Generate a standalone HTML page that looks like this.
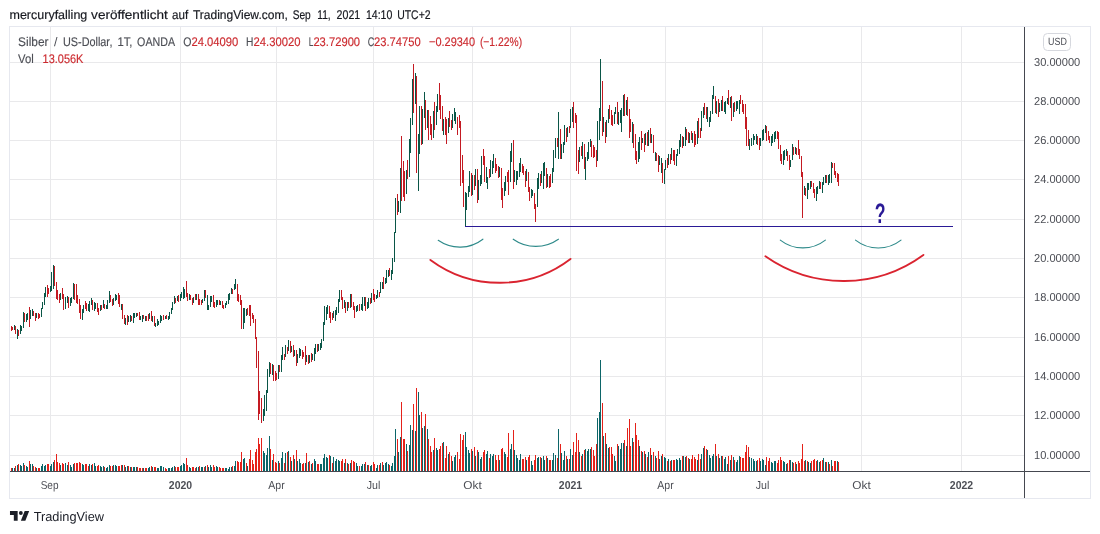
<!DOCTYPE html>
<html lang="de"><head><meta charset="utf-8"><title>Silber / US-Dollar</title>
<style>
html,body{margin:0;padding:0;background:#fff;}
body{width:1100px;height:534px;overflow:hidden;font-family:"Liberation Sans",sans-serif;}
svg{display:block;font-family:"Liberation Sans",sans-serif;will-change:transform;}
text{text-rendering:geometricPrecision;}
</style></head><body>
<svg width="1100" height="534" viewBox="0 0 1100 534">
<rect width="1100" height="534" fill="#fff"/>
<rect x="9.5" y="26.5" width="1081" height="472" fill="none" stroke="#e6e8ef" stroke-width="1" shape-rendering="crispEdges"/>
<g shape-rendering="crispEdges" stroke="#e9e9eb" stroke-width="1" fill="none">
<path d="M50.5 27V471M180.5 27V471M276.5 27V471M373.5 27V471M472.5 27V471M570.5 27V471M665.5 27V471M762.5 27V471M861.5 27V471M961.5 27V471M10 62.5H1024M10 101.5H1024M10 140.5H1024M10 179.5H1024M10 219.5H1024M10 258.5H1024M10 297.5H1024M10 337.5H1024M10 376.5H1024M10 415.5H1024M10 455.5H1024"/></g>
<g shape-rendering="crispEdges" fill="none" stroke-width="1">
<path stroke="#0c6568" d="M12.5 468V471M14.5 468V471M17.5 465V471M20.5 465V471M21.5 466V471M23.5 463V471M26.5 466V471M27.5 467V471M30.5 464V471M32.5 464V471M36.5 468V471M41.5 466V471M42.5 464V471M44.5 466V471M45.5 465V471M50.5 466V471M51.5 464V471M53.5 462V471M60.5 465V471M65.5 463V471M67.5 465V471M70.5 465V471M71.5 467V471M73.5 464V471M82.5 464V471M83.5 465V471M89.5 464V471M91.5 465V471M94.5 463V471M95.5 466V471M100.5 466V471M101.5 467V471M103.5 466V471M106.5 468V471M107.5 467V471M109.5 465V471M113.5 465V471M115.5 465V471M116.5 466V471M122.5 465V471M125.5 467V471M127.5 466V471M130.5 467V471M133.5 467V471M134.5 467V471M136.5 467V471M143.5 468V471M148.5 468V471M149.5 467V471M152.5 467V471M157.5 468V471M158.5 468V471M160.5 466V471M161.5 466V471M163.5 467V471M168.5 468V471M169.5 468V471M171.5 468V471M172.5 467V471M174.5 466V471M180.5 466V471M181.5 465V471M183.5 463V471M184.5 464V471M189.5 467V471M190.5 468V471M196.5 467V471M198.5 467V471M201.5 467V471M202.5 467V471M205.5 466V471M208.5 467V471M210.5 465V471M211.5 467V471M216.5 466V471M217.5 467V471M225.5 468V471M226.5 468V471M228.5 469V471M229.5 467V471M231.5 467V471M234.5 466V471M235.5 461V471M243.5 459V471M244.5 458V471M247.5 466V471M263.5 451V471M264.5 453V471M266.5 455V471M267.5 448V471M269.5 436V471M272.5 460V471M278.5 461V471M281.5 458V471M282.5 452V471M285.5 453V471M288.5 451V471M291.5 461V471M294.5 459V471M297.5 461V471M299.5 459V471M300.5 463V471M305.5 463V471M308.5 462V471M311.5 464V471M314.5 459V471M315.5 461V471M320.5 464V471M321.5 464V471M323.5 458V471M324.5 454V471M326.5 457V471M327.5 458V471M330.5 456V471M333.5 457V471M335.5 461V471M336.5 459V471M338.5 460V471M339.5 461V471M344.5 463V471M347.5 463V471M350.5 463V471M356.5 463V471M357.5 466V471M361.5 466V471M362.5 464V471M364.5 464V471M367.5 465V471M370.5 466V471M371.5 465V471M376.5 468V471M377.5 465V471M380.5 463V471M383.5 465V471M385.5 463V471M386.5 462V471M388.5 464V471M391.5 466V471M392.5 463V471M394.5 456V471M395.5 429V471M398.5 452V471M400.5 437V471M406.5 444V471M409.5 445V471M410.5 425V471M412.5 430V471M415.5 431V471M418.5 392V471M419.5 415V471M422.5 428V471M424.5 426V471M427.5 429V471M433.5 450V471M436.5 448V471M437.5 450V471M443.5 442V471M448.5 454V471M452.5 461V471M454.5 457V471M455.5 455V471M465.5 432V471M466.5 447V471M468.5 450V471M469.5 453V471M472.5 451V471M475.5 456V471M478.5 452V471M480.5 459V471M481.5 457V471M486.5 454V471M487.5 451V471M490.5 454V471M492.5 456V471M493.5 454V471M499.5 460V471M504.5 452V471M505.5 454V471M510.5 449V471M511.5 444V471M514.5 450V471M516.5 455V471M517.5 458V471M519.5 460V471M520.5 454V471M526.5 460V471M531.5 461V471M532.5 465V471M537.5 458V471M538.5 457V471M541.5 458V471M543.5 456V471M544.5 460V471M547.5 458V471M552.5 460V471M553.5 453V471M555.5 455V471M558.5 429V471M561.5 453V471M563.5 460V471M564.5 451V471M567.5 459V471M570.5 449V471M572.5 455V471M579.5 452V471M582.5 454V471M585.5 449V471M587.5 451V471M588.5 449V471M590.5 449V471M597.5 418V471M599.5 412V471M600.5 360V471M603.5 436V471M606.5 444V471M608.5 448V471M614.5 456V471M615.5 461V471M618.5 446V471M620.5 449V471M621.5 443V471M623.5 443V471M626.5 446V471M632.5 438V471M639.5 446V471M642.5 452V471M645.5 454V471M648.5 452V471M651.5 455V471M655.5 456V471M659.5 459V471M661.5 456V471M664.5 457V471M665.5 458V471M668.5 459V471M671.5 460V471M676.5 459V471M677.5 460V471M679.5 458V471M680.5 460V471M683.5 456V471M685.5 457V471M689.5 459V471M697.5 460V471M701.5 454V471M703.5 448V471M707.5 450V471M709.5 455V471M710.5 458V471M712.5 456V471M713.5 454V471M716.5 456V471M719.5 458V471M721.5 456V471M724.5 459V471M725.5 457V471M727.5 464V471M730.5 460V471M733.5 457V471M736.5 462V471M737.5 460V471M739.5 456V471M749.5 457V471M751.5 458V471M753.5 459V471M754.5 461V471M756.5 461V471M760.5 461V471M762.5 459V471M763.5 460V471M765.5 465V471M771.5 462V471M772.5 463V471M774.5 461V471M775.5 461V471M783.5 461V471M784.5 462V471M786.5 464V471M790.5 460V471M792.5 462V471M796.5 464V471M805.5 460V471M808.5 462V471M810.5 463V471M817.5 460V471M819.5 462V471M823.5 458V471M825.5 462V471M828.5 462V471M831.5 460V471M837.5 461V471"/>
<path stroke="#e5211a" d="M11.5 468V471M15.5 466V471M18.5 464V471M24.5 465V471M29.5 461V471M33.5 466V471M35.5 467V471M38.5 468V471M39.5 468V471M47.5 464V471M48.5 464V471M54.5 460V471M56.5 454V471M57.5 462V471M59.5 463V471M62.5 463V471M63.5 464V471M68.5 462V471M74.5 463V471M76.5 463V471M77.5 463V471M79.5 462V471M80.5 463V471M85.5 464V471M86.5 464V471M88.5 466V471M92.5 464V471M97.5 466V471M98.5 465V471M104.5 467V471M110.5 466V471M112.5 466V471M118.5 466V471M119.5 466V471M121.5 465V471M124.5 465V471M128.5 466V471M131.5 467V471M137.5 467V471M139.5 468V471M140.5 468V471M142.5 468V471M145.5 468V471M146.5 468V471M151.5 466V471M154.5 467V471M155.5 467V471M165.5 468V471M166.5 469V471M175.5 467V471M177.5 467V471M178.5 467V471M186.5 458V471M187.5 465V471M192.5 467V471M193.5 467V471M195.5 468V471M199.5 466V471M204.5 467V471M207.5 465V471M213.5 465V471M214.5 467V471M219.5 467V471M220.5 468V471M222.5 468V471M223.5 468V471M232.5 466V471M237.5 461V471M238.5 462V471M240.5 462V471M241.5 452V471M246.5 463V471M249.5 459V471M250.5 450V471M252.5 460V471M253.5 464V471M255.5 452V471M256.5 449V471M258.5 438V471M259.5 444V471M261.5 438V471M270.5 449V471M273.5 454V471M275.5 462V471M276.5 463V471M279.5 463V471M284.5 463V471M287.5 452V471M290.5 457V471M293.5 455V471M296.5 450V471M302.5 464V471M303.5 463V471M306.5 453V471M309.5 461V471M312.5 463V471M317.5 464V471M318.5 464V471M329.5 455V471M332.5 463V471M341.5 461V471M342.5 459V471M345.5 459V471M348.5 464V471M351.5 460V471M353.5 461V471M354.5 462V471M359.5 466V471M365.5 462V471M368.5 465V471M373.5 462V471M374.5 464V471M379.5 465V471M382.5 462V471M389.5 465V471M397.5 439V471M401.5 402V471M403.5 439V471M404.5 439V471M407.5 451V471M413.5 404V471M416.5 388V471M421.5 412V471M425.5 414V471M428.5 439V471M430.5 446V471M431.5 452V471M434.5 438V471M439.5 449V471M440.5 446V471M442.5 443V471M445.5 458V471M446.5 446V471M449.5 452V471M451.5 456V471M457.5 452V471M459.5 459V471M460.5 434V471M462.5 440V471M463.5 435V471M471.5 449V471M474.5 447V471M477.5 450V471M483.5 452V471M484.5 450V471M489.5 458V471M495.5 455V471M496.5 460V471M498.5 455V471M501.5 449V471M502.5 448V471M507.5 457V471M508.5 433V471M513.5 430V471M522.5 459V471M523.5 459V471M525.5 457V471M528.5 457V471M529.5 455V471M534.5 460V471M535.5 455V471M540.5 457V471M546.5 456V471M549.5 460V471M550.5 460V471M557.5 458V471M560.5 444V471M566.5 456V471M569.5 459V471M573.5 442V471M575.5 452V471M576.5 433V471M578.5 440V471M581.5 456V471M584.5 450V471M591.5 447V471M593.5 450V471M594.5 456V471M596.5 444V471M602.5 403V471M605.5 433V471M609.5 447V471M611.5 447V471M612.5 454V471M617.5 444V471M624.5 440V471M627.5 428V471M629.5 419V471M630.5 446V471M633.5 442V471M635.5 423V471M636.5 435V471M638.5 440V471M641.5 451V471M644.5 451V471M647.5 457V471M650.5 448V471M653.5 452V471M656.5 458V471M658.5 451V471M662.5 454V471M667.5 461V471M670.5 461V471M673.5 460V471M674.5 460V471M682.5 456V471M686.5 456V471M688.5 458V471M691.5 459V471M692.5 455V471M694.5 457V471M695.5 459V471M698.5 454V471M700.5 459V471M704.5 446V471M706.5 449V471M715.5 444V471M718.5 454V471M722.5 456V471M728.5 456V471M731.5 455V471M734.5 460V471M740.5 457V471M742.5 458V471M743.5 458V471M745.5 452V471M746.5 445V471M748.5 447V471M757.5 460V471M759.5 458V471M766.5 457V471M768.5 461V471M769.5 458V471M777.5 463V471M778.5 460V471M780.5 457V471M781.5 460V471M787.5 463V471M789.5 460V471M793.5 463V471M795.5 462V471M798.5 461V471M799.5 463V471M801.5 459V471M802.5 444V471M804.5 461V471M807.5 461V471M811.5 461V471M813.5 460V471M814.5 459V471M816.5 461V471M820.5 461V471M822.5 460V471M826.5 462V471M829.5 464V471M832.5 466V471M834.5 461V471M835.5 461V471M838.5 462V471"/>
<path stroke="#0a5647" d="M14.5 325V330M17.5 329V339M20.5 325V334M21.5 326V331M23.5 312V328M26.5 314V322M27.5 313V320M30.5 310V319M32.5 309V316M36.5 313V318M41.5 308V317M42.5 302V309M44.5 293V305M45.5 287V297M50.5 286V292M51.5 272V291M53.5 265V289M60.5 293V300M65.5 297V309M67.5 296V303M70.5 298V306M71.5 297V303M73.5 283V299M82.5 309V320M83.5 305V313M88.5 304V311M89.5 301V312M91.5 298V305M94.5 302V311M95.5 303V309M100.5 305V311M103.5 300V308M106.5 305V309M107.5 300V309M109.5 291V303M113.5 298V305M115.5 294V301M116.5 295V300M121.5 304V310M125.5 318V325M128.5 316V322M130.5 315V322M133.5 313V323M134.5 313V318M136.5 313V317M140.5 316V320M142.5 315V322M145.5 316V321M149.5 313V319M152.5 316V322M155.5 323V327M157.5 319V326M158.5 321V325M160.5 315V323M161.5 316V321M165.5 316V319M168.5 316V320M169.5 312V319M171.5 308V314M172.5 302V310M174.5 296V304M177.5 296V301M180.5 294V301M181.5 292V298M183.5 287V299M184.5 289V298M189.5 294V300M193.5 297V303M196.5 294V300M202.5 299V303M204.5 290V301M207.5 295V310M208.5 305V310M210.5 296V307M211.5 296V302M216.5 300V307M217.5 300V305M220.5 301V305M225.5 303V308M226.5 301V305M228.5 294V304M229.5 293V300M231.5 288V294M234.5 284V290M235.5 279V289M243.5 308V329M244.5 308V323M246.5 309V316M263.5 409V421M264.5 395V416M266.5 390V411M267.5 369V393M269.5 362V377M272.5 364V375M278.5 365V379M281.5 355V372M282.5 347V360M285.5 345V357M288.5 340V351M291.5 346V352M294.5 350V356M297.5 354V363M299.5 348V358M300.5 349V356M306.5 355V362M309.5 355V363M312.5 354V360M314.5 348V361M315.5 344V354M318.5 344V351M320.5 343V350M321.5 339V348M323.5 322V341M324.5 306V325M326.5 307V320M327.5 305V314M333.5 311V318M335.5 310V321M336.5 307V315M338.5 299V313M339.5 290V302M344.5 300V308M347.5 302V311M350.5 294V308M356.5 306V312M357.5 305V311M361.5 304V310M362.5 297V311M364.5 297V306M367.5 302V309M368.5 298V308M371.5 293V303M376.5 295V299M377.5 290V298M380.5 282V293M382.5 282V289M385.5 278V284M386.5 270V283M388.5 270V277M391.5 270V280M392.5 258V274M394.5 232V262M395.5 198V233M398.5 201V212M400.5 168V213M406.5 170V194M409.5 139V177M410.5 118V153M412.5 79V125M415.5 73V104M418.5 134V191M419.5 106V154M422.5 109V144M424.5 92V118M427.5 110V128M433.5 111V138M436.5 106V125M437.5 94V112M443.5 119V135M448.5 118V133M452.5 114V128M454.5 108V121M455.5 112V124M465.5 192V226M466.5 193V210M468.5 186V197M469.5 171V192M472.5 175V195M475.5 169V186M478.5 180V200M480.5 175V186M481.5 156V184M486.5 167V183M487.5 177V189M490.5 160V177M492.5 161V174M493.5 154V168M499.5 167V177M504.5 182V196M505.5 176V191M510.5 151V182M511.5 143V162M514.5 170V182M516.5 171V185M517.5 171V180M519.5 163V177M520.5 158V172M526.5 169V181M531.5 189V198M532.5 190V196M537.5 178V207M538.5 173V189M541.5 171V183M543.5 163V189M544.5 162V176M547.5 174V187M552.5 168V183M553.5 150V172M555.5 138V158M558.5 112V159M561.5 144V159M563.5 142V153M564.5 125V145M567.5 127V137M570.5 109V128M572.5 107V122M579.5 147V162M582.5 142V159M585.5 157V180M587.5 152V161M588.5 142V159M590.5 139V147M597.5 121V161M599.5 108V140M600.5 59V121M603.5 117V132M606.5 120V137M608.5 109V123M614.5 112V124M615.5 107V114M618.5 112V125M620.5 110V123M621.5 108V132M623.5 95V116M626.5 100V115M632.5 122V143M638.5 142V162M639.5 137V159M642.5 138V143M645.5 133V145M648.5 130V146M651.5 134V143M655.5 152V161M659.5 156V165M661.5 158V173M664.5 169V184M665.5 160V170M668.5 154V165M671.5 148V160M676.5 154V166M677.5 149V156M679.5 140V154M680.5 134V147M683.5 137V146M685.5 127V146M689.5 133V143M692.5 133V143M697.5 121V144M701.5 111V131M703.5 107V118M707.5 107V122M709.5 117V127M710.5 111V122M712.5 95V114M713.5 86V99M716.5 101V114M719.5 103V112M721.5 100V111M724.5 102V112M725.5 101V114M727.5 98V104M730.5 97V108M733.5 103V117M736.5 101V111M737.5 101V109M739.5 100V114M749.5 139V150M751.5 138V146M753.5 134V145M754.5 136V140M756.5 134V144M760.5 138V146M762.5 130V141M763.5 129V140M765.5 125V133M771.5 136V146M772.5 134V143M774.5 132V142M775.5 131V139M783.5 151V165M784.5 150V160M786.5 149V156M790.5 160V167M792.5 144V160M795.5 147V154M804.5 186V195M807.5 183V199M808.5 183V190M810.5 181V189M816.5 187V201M817.5 186V194M819.5 181V189M822.5 182V193M823.5 177V185M825.5 175V183M828.5 175V185M829.5 174V183M831.5 162V183"/>
<path stroke="#c41a22" d="M11.5 326V331M12.5 327V330M15.5 326V334M18.5 330V336M24.5 313V322M29.5 307V327M33.5 311V316M35.5 313V321M38.5 313V319M39.5 314V318M47.5 285V297M48.5 288V294M54.5 266V286M56.5 282V299M57.5 290V300M59.5 294V303M62.5 288V299M63.5 294V310M68.5 297V308M74.5 284V300M76.5 284V303M77.5 295V304M79.5 299V313M80.5 305V319M85.5 301V309M86.5 303V311M92.5 300V310M97.5 303V312M98.5 308V315M101.5 305V310M104.5 304V309M110.5 295V302M112.5 299V306M118.5 293V304M119.5 295V307M122.5 304V319M124.5 315V324M127.5 315V325M131.5 316V321M137.5 313V316M139.5 312V320M143.5 315V319M146.5 316V321M148.5 314V321M151.5 311V321M154.5 316V326M163.5 315V320M166.5 315V319M175.5 298V303M178.5 295V302M186.5 281V297M187.5 293V301M190.5 295V300M192.5 298V305M195.5 294V300M198.5 294V305M199.5 299V305M201.5 300V305M205.5 290V298M213.5 295V307M214.5 302V308M219.5 300V305M222.5 301V308M223.5 305V309M232.5 289V294M237.5 284V301M238.5 294V302M240.5 295V305M241.5 300V329M247.5 308V315M249.5 305V316M250.5 305V326M252.5 313V319M253.5 315V323M255.5 319V339M256.5 337V368M258.5 351V420M259.5 391V414M261.5 398V423M270.5 363V374M273.5 365V381M275.5 371V381M276.5 373V380M279.5 365V372M284.5 354V360M287.5 347V354M290.5 341V353M293.5 345V357M296.5 350V366M302.5 350V359M303.5 352V357M305.5 346V365M308.5 355V364M311.5 353V362M317.5 344V352M329.5 306V318M330.5 312V323M332.5 313V320M341.5 290V300M342.5 297V309M345.5 302V313M348.5 302V308M351.5 294V307M353.5 302V310M354.5 306V318M359.5 304V311M365.5 297V311M370.5 298V304M373.5 289V300M374.5 294V302M379.5 292V297M383.5 277V289M389.5 268V276M397.5 194V215M401.5 136V201M403.5 161V197M404.5 171V201M407.5 160V179M413.5 64V113M416.5 76V173M421.5 106V145M425.5 100V130M428.5 110V140M430.5 116V135M431.5 124V140M434.5 102V130M439.5 83V110M440.5 95V119M442.5 106V131M445.5 117V135M446.5 119V144M449.5 111V127M451.5 120V130M457.5 117V135M459.5 115V128M460.5 121V186M462.5 155V183M463.5 170V207M471.5 173V196M474.5 175V190M477.5 169V203M483.5 149V165M484.5 156V182M489.5 169V178M495.5 158V173M496.5 164V171M498.5 166V178M501.5 168V200M502.5 188V208M507.5 172V182M508.5 170V195M513.5 140V189M522.5 164V173M523.5 166V175M525.5 171V187M528.5 172V192M529.5 187V201M534.5 193V209M535.5 204V222M540.5 174V186M546.5 168V188M549.5 176V188M550.5 174V187M557.5 138V147M560.5 129V159M566.5 128V142M569.5 126V133M573.5 102V128M575.5 113V123M576.5 115V171M578.5 150V174M581.5 146V156M584.5 144V169M591.5 141V157M593.5 145V158M594.5 147V157M596.5 150V167M602.5 81V136M605.5 122V143M609.5 105V119M611.5 110V125M612.5 115V126M617.5 102V124M624.5 94V116M627.5 97V116M629.5 109V138M630.5 119V132M633.5 124V148M635.5 134V160M636.5 151V164M641.5 131V150M644.5 134V152M647.5 132V146M650.5 128V143M653.5 135V153M656.5 153V161M658.5 155V172M662.5 163V183M667.5 158V168M670.5 154V164M673.5 150V161M674.5 150V165M682.5 136V148M686.5 129V140M688.5 132V143M691.5 131V140M694.5 131V147M695.5 134V145M698.5 118V138M700.5 128V138M704.5 103V115M706.5 107V119M715.5 96V113M718.5 99V117M722.5 96V111M728.5 90V105M731.5 96V121M734.5 102V112M740.5 95V104M742.5 100V112M743.5 104V114M745.5 104V129M746.5 117V146M748.5 130V146M757.5 136V145M759.5 138V150M766.5 126V141M768.5 131V140M769.5 136V143M777.5 131V139M778.5 132V149M780.5 145V161M781.5 154V164M787.5 151V161M789.5 155V170M793.5 147V155M796.5 148V155M798.5 140V155M799.5 149V159M801.5 156V177M802.5 172V218M805.5 188V196M811.5 181V187M813.5 183V193M814.5 189V198M820.5 182V189M826.5 175V183M832.5 163V168M834.5 163V175M835.5 171V178M837.5 173V182M838.5 174V186"/>
</g>
<path d="M465 226.5H953" stroke="#2a1a96" stroke-width="1.15" fill="none"/>
<g fill="none" stroke="#2e8a8a" stroke-width="1.1" stroke-linecap="round">
<path d="M438.2 240.3A37.7 37.7 0 0 0 482.9 239.2"/>
<path d="M513.2 239.2A39.1 39.1 0 0 0 558.4 239.2"/>
<path d="M780.3 240.1A36.5 36.5 0 0 0 825.4 240.1"/>
<path d="M855.5 240.1A36.8 36.8 0 0 0 901 240.1"/>
</g>
<g fill="none" stroke="#da2430" stroke-width="1.9" stroke-linecap="round">
<path d="M430.4 259.9A116.5 116.5 0 0 0 570.5 258.9"/>
<path d="M765.4 256.3A135.5 135.5 0 0 0 923.4 254.9"/>
</g>
<text x="880.1" y="223" font-size="28.4" font-weight="bold" fill="#2a1a96" text-anchor="middle" textLength="10.8" lengthAdjust="spacingAndGlyphs">?</text>
<path d="M1024.5 27V498M10 471.5H1090" stroke="#454850" stroke-width="1" fill="none" shape-rendering="crispEdges"/>
<rect x="1043.5" y="33.5" width="27" height="17" rx="4" fill="#fff" stroke="#d6d8de" stroke-width="1"/><text x="1057.5" y="45.3" font-size="10.5" fill="#4c4e55" text-anchor="middle" textLength="18.8" lengthAdjust="spacingAndGlyphs">USD</text>
<text x="9.5" y="19.2" font-size="12.6" fill="#16181f" textLength="77.8" lengthAdjust="spacingAndGlyphs" stroke="#16181f" stroke-width="0.18">mercuryfalling</text>
<text x="91.1" y="19.2" font-size="12.6" fill="#16181f" textLength="76.7" lengthAdjust="spacingAndGlyphs" stroke="#16181f" stroke-width="0.18">veröffentlicht</text>
<text x="172.0" y="19.2" font-size="12.6" fill="#16181f" textLength="16.2" lengthAdjust="spacingAndGlyphs" stroke="#16181f" stroke-width="0.18">auf</text>
<text x="192.9" y="19.2" font-size="12.6" fill="#16181f" textLength="94.9" lengthAdjust="spacingAndGlyphs" stroke="#16181f" stroke-width="0.18">TradingView.com,</text>
<text x="292.7" y="19.2" font-size="12.6" fill="#16181f" textLength="18.1" lengthAdjust="spacingAndGlyphs" stroke="#16181f" stroke-width="0.18">Sep</text>
<text x="317.3" y="19.2" font-size="12.6" fill="#16181f" textLength="13.4" lengthAdjust="spacingAndGlyphs" stroke="#16181f" stroke-width="0.18">11,</text>
<text x="336.6" y="19.2" font-size="12.6" fill="#16181f" textLength="23.6" lengthAdjust="spacingAndGlyphs" stroke="#16181f" stroke-width="0.18">2021</text>
<text x="365.9" y="19.2" font-size="12.6" fill="#16181f" textLength="26.5" lengthAdjust="spacingAndGlyphs" stroke="#16181f" stroke-width="0.18">14:10</text>
<text x="397.2" y="19.2" font-size="12.6" fill="#16181f" textLength="33.4" lengthAdjust="spacingAndGlyphs" stroke="#16181f" stroke-width="0.18">UTC+2</text>
<text x="18.1" y="46" font-size="12.5" fill="#4c4e55" textLength="30.4" lengthAdjust="spacingAndGlyphs" stroke="#4c4e55" stroke-width="0.15">Silber</text>
<text x="54.0" y="46" font-size="12.5" fill="#4c4e55">/</text>
<text x="63.0" y="46" font-size="12.5" fill="#4c4e55" textLength="49.4" lengthAdjust="spacingAndGlyphs" stroke="#4c4e55" stroke-width="0.15">US-Dollar,</text>
<text x="117.5" y="46" font-size="12.5" fill="#4c4e55" textLength="15.0" lengthAdjust="spacingAndGlyphs" stroke="#4c4e55" stroke-width="0.15">1T,</text>
<text x="137.1" y="46" font-size="12.5" fill="#4c4e55" textLength="37.9" lengthAdjust="spacingAndGlyphs" stroke="#4c4e55" stroke-width="0.15">OANDA</text>
<text x="183.3" y="46" font-size="12.5" fill="#4c4e55" textLength="8.2" lengthAdjust="spacingAndGlyphs" stroke="#4c4e55" stroke-width="0.15">O</text>
<text x="191.4" y="46" font-size="12.5" fill="#cc2a2f" textLength="46.9" lengthAdjust="spacingAndGlyphs" stroke="#cc2a2f" stroke-width="0.15">24.04090</text>
<text x="245.9" y="46" font-size="12.5" fill="#4c4e55" textLength="7.4" lengthAdjust="spacingAndGlyphs" stroke="#4c4e55" stroke-width="0.15">H</text>
<text x="253.5" y="46" font-size="12.5" fill="#cc2a2f" textLength="47.0" lengthAdjust="spacingAndGlyphs" stroke="#cc2a2f" stroke-width="0.15">24.30020</text>
<text x="308.8" y="46" font-size="12.5" fill="#4c4e55" textLength="4.7" lengthAdjust="spacingAndGlyphs" stroke="#4c4e55" stroke-width="0.15">L</text>
<text x="313.4" y="46" font-size="12.5" fill="#cc2a2f" textLength="46.7" lengthAdjust="spacingAndGlyphs" stroke="#cc2a2f" stroke-width="0.15">23.72900</text>
<text x="367.7" y="46" font-size="12.5" fill="#4c4e55" textLength="6.6" lengthAdjust="spacingAndGlyphs" stroke="#4c4e55" stroke-width="0.15">C</text>
<text x="374.1" y="46" font-size="12.5" fill="#cc2a2f" textLength="46.6" lengthAdjust="spacingAndGlyphs" stroke="#cc2a2f" stroke-width="0.15">23.74750</text>
<text x="429.0" y="46" font-size="12.5" fill="#cc2a2f" textLength="46.0" lengthAdjust="spacingAndGlyphs" stroke="#cc2a2f" stroke-width="0.15">−0.29340</text>
<text x="479.9" y="46" font-size="12.5" fill="#cc2a2f" textLength="42.2" lengthAdjust="spacingAndGlyphs" stroke="#cc2a2f" stroke-width="0.15">(−1.22%)</text>
<text x="18.1" y="62.6" font-size="12.5" fill="#4c4e55" textLength="15.7" lengthAdjust="spacingAndGlyphs" stroke="#4c4e55" stroke-width="0.15">Vol</text>
<text x="42.6" y="62.6" font-size="12.5" fill="#cc2a2f" textLength="40.8" lengthAdjust="spacingAndGlyphs" stroke="#cc2a2f" stroke-width="0.15">13.056K</text>
<text x="1034" y="65.5" font-size="11.5" fill="#4c4e55" textLength="46.2" lengthAdjust="spacingAndGlyphs">30.00000</text>
<text x="1034" y="104.5" font-size="11.5" fill="#4c4e55" textLength="46.2" lengthAdjust="spacingAndGlyphs">28.00000</text>
<text x="1034" y="143.5" font-size="11.5" fill="#4c4e55" textLength="46.2" lengthAdjust="spacingAndGlyphs">26.00000</text>
<text x="1034" y="182.5" font-size="11.5" fill="#4c4e55" textLength="46.2" lengthAdjust="spacingAndGlyphs">24.00000</text>
<text x="1034" y="222.5" font-size="11.5" fill="#4c4e55" textLength="46.2" lengthAdjust="spacingAndGlyphs">22.00000</text>
<text x="1034" y="261.5" font-size="11.5" fill="#4c4e55" textLength="46.2" lengthAdjust="spacingAndGlyphs">20.00000</text>
<text x="1034" y="300.5" font-size="11.5" fill="#4c4e55" textLength="46.2" lengthAdjust="spacingAndGlyphs">18.00000</text>
<text x="1034" y="340.5" font-size="11.5" fill="#4c4e55" textLength="46.2" lengthAdjust="spacingAndGlyphs">16.00000</text>
<text x="1034" y="379.5" font-size="11.5" fill="#4c4e55" textLength="46.2" lengthAdjust="spacingAndGlyphs">14.00000</text>
<text x="1034" y="418.5" font-size="11.5" fill="#4c4e55" textLength="46.2" lengthAdjust="spacingAndGlyphs">12.00000</text>
<text x="1034" y="458.5" font-size="11.5" fill="#4c4e55" textLength="46.2" lengthAdjust="spacingAndGlyphs">10.00000</text>
<text x="49.6" y="489.2" font-size="11.5" fill="#4c4e55" text-anchor="middle" textLength="17.8" lengthAdjust="spacingAndGlyphs">Sep</text>
<text x="180.5" y="489.2" font-size="11.5" fill="#4c4e55" font-weight="bold" text-anchor="middle" textLength="23.3" lengthAdjust="spacingAndGlyphs">2020</text>
<text x="276.5" y="489.2" font-size="11.5" fill="#4c4e55" text-anchor="middle" textLength="16.4" lengthAdjust="spacingAndGlyphs">Apr</text>
<text x="373.5" y="489.2" font-size="11.5" fill="#4c4e55" text-anchor="middle" textLength="13.6" lengthAdjust="spacingAndGlyphs">Jul</text>
<text x="472.5" y="489.2" font-size="11.5" fill="#4c4e55" text-anchor="middle" textLength="18.4" lengthAdjust="spacingAndGlyphs">Okt</text>
<text x="570.5" y="489.2" font-size="11.5" fill="#4c4e55" font-weight="bold" text-anchor="middle" textLength="23.3" lengthAdjust="spacingAndGlyphs">2021</text>
<text x="665.5" y="489.2" font-size="11.5" fill="#4c4e55" text-anchor="middle" textLength="16.4" lengthAdjust="spacingAndGlyphs">Apr</text>
<text x="762.5" y="489.2" font-size="11.5" fill="#4c4e55" text-anchor="middle" textLength="13.6" lengthAdjust="spacingAndGlyphs">Jul</text>
<text x="861.5" y="489.2" font-size="11.5" fill="#4c4e55" text-anchor="middle" textLength="18.4" lengthAdjust="spacingAndGlyphs">Okt</text>
<text x="961.5" y="489.2" font-size="11.5" fill="#4c4e55" font-weight="bold" text-anchor="middle" textLength="23.3" lengthAdjust="spacingAndGlyphs">2022</text>
<text x="33.7" y="521" font-size="13" fill="#1b1e27" textLength="70.3" lengthAdjust="spacingAndGlyphs">TradingView</text>
<g transform="translate(8.7,507.2) scale(0.64)" fill="#1b1e27"><path d="M14 6H2v6h6v9h6V6Zm12 15h-7l6-15h7l-6 15Zm-7-9a3 3 0 1 0 0-6 3 3 0 0 0 0 6Z"/></g>
</svg>
</body></html>
